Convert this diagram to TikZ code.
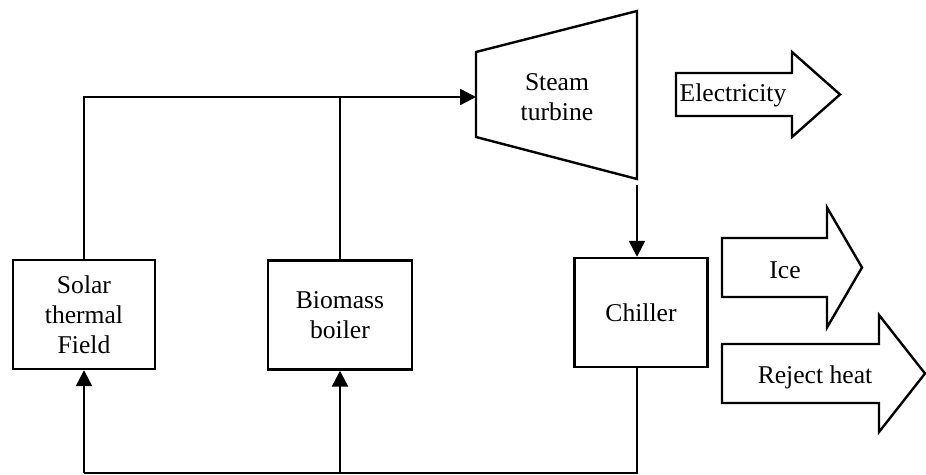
\documentclass[tikz,border=0pt]{standalone}
\usepackage{fontspec}
\setmainfont{Liberation Serif}
\usepackage{tikz}
\usetikzlibrary{arrows.meta,positioning,calc}

\begin{document}
\begin{tikzpicture}[
  x=0.5pt, y=-0.5pt,
  line width=1.2pt,
  font=\fontsize{12.8}{15}\selectfont,
  block/.style={draw, minimum height=54.5pt, align=center, inner sep=2pt},
  label/.style={align=center, inner sep=0pt},
  arrow/.style={-{Triangle[length=8pt,width=8pt]}},
  bigarrow/.style={draw, line join=miter}
]
  \useasboundingbox (0,0) rectangle (926,475);

  % Heat sources
  \node[block, minimum width=71pt] (solar) at (84,314.5) {Solar\\thermal\\Field};
  \node[block, minimum width=72pt] (biomass) at (340,315) {Biomass\\boiler};

  % Steam turbine
  \draw (476,52) -- (637,11) -- (637,179) -- (476,137) -- cycle;
  \node[label] (turbine) at (557,97) {Steam\\turbine};
  \coordinate (tin) at (476,97);
  \coordinate (tout) at (637,185);

  % Chiller
  \node[block, minimum width=66.5pt] (chiller) at (641,312.5) {Chiller};

  % Outputs
  \draw[bigarrow] (676,73) -- (792,73) -- (792,52) -- (840,94.5) -- (792,137) -- (792,116) -- (676,116) -- cycle;
  \node[label] (elec) at (733,95) {Electricity};
  \draw[bigarrow] (722,238) -- (827,238) -- (827,207.5) -- (862,267.5) -- (827,327.5) -- (827,297) -- (722,297) -- cycle;
  \node[label] (ice) at (785,270) {Ice};
  \draw[bigarrow] (722,344) -- (879,344) -- (879,315) -- (925,373.5) -- (879,432) -- (879,403) -- (722,403) -- cycle;
  \node[label] (reject) at (815,377) {Reject heat};

  % Steam lines
  \draw[arrow] (solar.north) |- (tin);
  \draw (biomass.north) -- (biomass.north |- tin);
  \draw[arrow] (tout) -- (tout |- chiller.north);

  % Return line
  \coordinate (bot) at (84,473);
  \draw (chiller.south -| tout) |- (bot);
  \draw[arrow] (bot) -- (solar.south);
  \draw[arrow] (biomass.south |- bot) -- (biomass.south);
\end{tikzpicture}
\end{document}
